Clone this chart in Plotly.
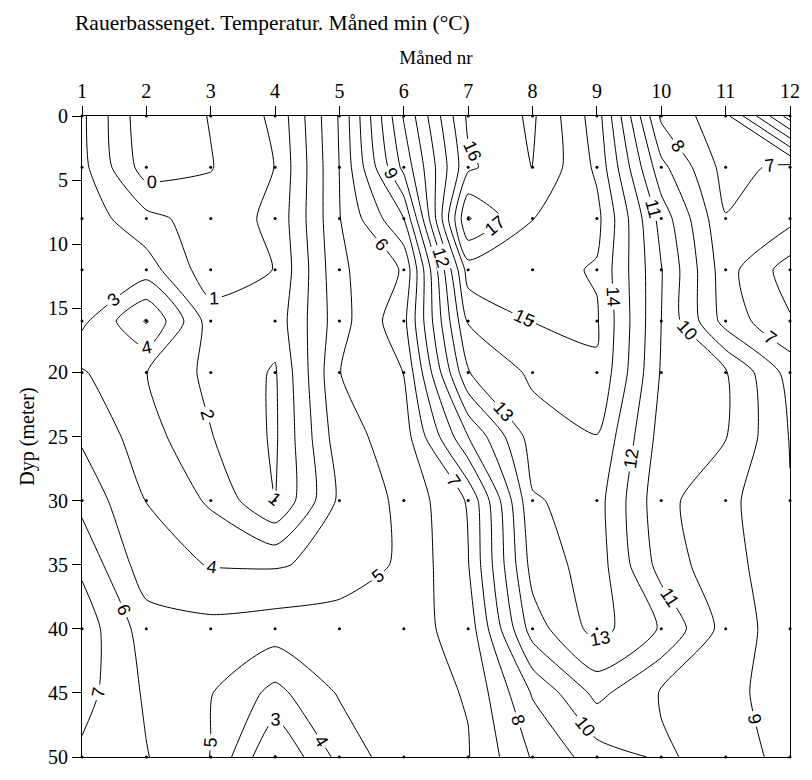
import plotly.graph_objects as go

# Month numbers (x) and depths (m) of the gridded values
months = [1, 2, 3, 4, 5, 6, 7, 8, 9, 10, 11, 12]
depths = [0, 4, 8, 12, 16, 20, 25, 30, 35, 40, 45, 50]

# Monthly minimum temperature (deg C), one list per depth, months 1..12
t_d00 = [2.2, -0.75, 0.05, 1.2, 5.1, 11.1, 16.2, 17.15, 14.5, 7.8, 6.3, 1.5]
t_d04 = [2.3, -0.5, -0.05, 1.02, 5.02, 10.3, 15.8, 17.05, 14.8, 9.3, 6.6, 7.3]
t_d08 = [2.6, 1.3, 0.5, 1.2, 4.95, 8.0, 18.1, 16.02, 15.3, 10.6, 7.05, 7.3]
t_d12 = [2.8, 2.5, 0.36, 1.03, 4.8, 6.1, 15.5, 15.4, 14.9, 11.05, 7.4, 5.5]
t_d16 = [2.75, 5.1, 1.5, 1.4, 4.6, 6.7, 14.1, 15.02, 15.1, 11.0, 7.6, 6.1]
t_d20 = [4.1, 3.02, 1.72, 0.9, 4.98, 6.02, 12.95, 14.2, 14.9, 10.9, 10.1, 7.6]
t_d25 = [4.85, 3.45, 2.05, 0.85, 4.6, 5.5, 10.0, 13.5, 13.97, 10.6, 10.05, 7.95]
t_d30 = [5.7, 3.98, 2.84, 0.98, 4.2, 5.25, 7.1, 12.9, 13.4, 10.3, 9.3, 8.05]
t_d35 = [6.8, 4.4, 3.95, 3.9, 4.3, 5.2, 6.95, 12.4, 13.5, 10.6, 9.3, 8.44]
t_d40 = [7.6, 5.5, 5.3, 5.5, 5.6, 5.6, 6.4, 11.5, 13.4, 11.9, 9.6, 8.4]
t_d45 = [7.4, 5.85, 5.05, 3.7, 5.1, 5.7, 6.05, 9.1, 11.3, 9.9, 9.3, 8.5]
t_d50 = [6.8, 6.05, 4.98, 1.95, 4.3, 5.7, 5.95, 8.1, 9.5, 10.15, 9.6, 8.6]

z = [t_d00, t_d04, t_d08, t_d12, t_d16, t_d20, t_d25, t_d30, t_d35, t_d40, t_d45, t_d50]

# Measurement points shown as dots
sample_months = months
sample_depths = [0, 4, 8, 12, 16, 20, 30, 40, 50]

# Axis tick labels
x_ticks = months
y_ticks = [0, 5, 10, 15, 20, 25, 30, 35, 40, 45, 50]

dot_x = [m for d in sample_depths for m in sample_months]
dot_y = [d for d in sample_depths for m in sample_months]

serif = "Liberation Serif"

fig = go.Figure()
fig.add_trace(go.Contour(
    x=months, y=depths, z=z,
    contours=dict(start=0, end=18, size=1, coloring="lines", showlabels=True,
                  labelfont=dict(family="Liberation Sans", size=18, color="black")),
    colorscale=[[0, "black"], [1, "black"]],
    showscale=False,
    line=dict(width=1, smoothing=0.6),
    hoverinfo="skip",
))
fig.add_trace(go.Scatter(
    x=dot_x, y=dot_y, mode="markers",
    marker=dict(size=3, color="black"),
    hoverinfo="skip", cliponaxis=False, showlegend=False,
))

fig.update_layout(
    width=812, height=780,
    margin=dict(l=82, r=14, t=116, b=13),
    paper_bgcolor="white", plot_bgcolor="white",
    showlegend=False,
    title=dict(text="Rauerbassenget. Temperatur. Måned min (°C)",
               x=75 / 812, xanchor="left", xref="container",
               y=1 - 22 / 780, yanchor="middle", yref="container",
               font=dict(family=serif, size=21.5, color="black")),
    xaxis=dict(range=[1, 12], side="top", tickmode="array", tickvals=x_ticks,
               ticks="outside", ticklen=9, tickcolor="black",
               showline=True, linecolor="black", linewidth=1, mirror=True,
               showgrid=False, zeroline=False,
               tickfont=dict(family=serif, size=20, color="black"),
               title=dict(text="Måned nr", standoff=10,
                          font=dict(family=serif, size=19, color="black"))),
    yaxis=dict(range=[50, 0], tickmode="array", tickvals=y_ticks,
               ticks="outside", ticklen=9, tickcolor="black",
               showline=True, linecolor="black", linewidth=1, mirror=True,
               showgrid=False, zeroline=False,
               tickfont=dict(family=serif, size=20, color="black"),
               title=dict(text="Dyp (meter)", standoff=8,
                          font=dict(family=serif, size=20, color="black"))),
)

fig.write_html("out.html")
